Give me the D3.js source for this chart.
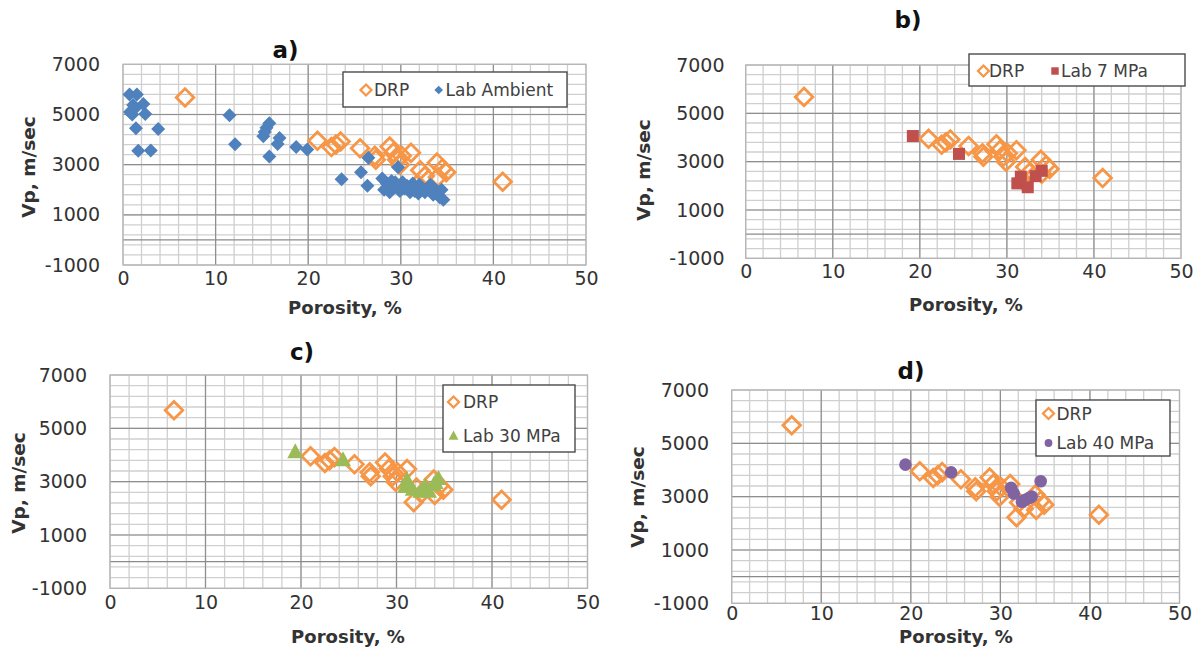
<!DOCTYPE html>
<html>
<head>
<meta charset="utf-8">
<script src="https://cdn.jsdelivr.net/npm/d3@7"></script>
<style>
  html, body { margin: 0; padding: 0; background: #ffffff; }
  svg { display: block; }
</style>
</head>
<body>
<svg id="chart" width="1198" height="648"></svg>
<script>
// ---------------- DATA ----------------
const xTicks = [0, 10, 20, 30, 40, 50];
const yTicks = [7000, 5000, 3000, 1000, -1000];
const panelLetters = ["a)", "b)", "c)", "d)"];
const labNames = ["Lab Ambient", "Lab 7 MPa", "Lab 30 MPa", "Lab 40 MPa"];
const drpName = "DRP";

// DRP (same set in all four panels): porosity %, Vp m/sec
const drpPorosity = [6.7, 21.0, 22.5, 23.5, 23.0, 25.6, 27.3, 27.2, 28.8, 29.2, 29.6, 29.9, 30.1, 31.1, 31.8, 32.1, 32.6, 33.9, 34.0, 34.5, 34.9, 41.0];
const drpVp       = [5680, 3950, 3700, 3920, 3800, 3650, 3200, 3350, 3720, 3480, 3200, 3000, 3350, 3470, 2230, 2780, 2550, 3080, 2500, 2850, 2700, 2320];

const ambientPorosity = [0.7, 1.5, 1.1, 2.2, 0.75, 2.4, 1.0, 1.3, 1.4, 3.8, 1.65, 3.0,
  11.5, 12.1, 15.8, 15.5, 15.15, 15.3, 16.9, 16.7, 15.8, 18.7, 19.9,
  23.6, 25.7, 26.4, 26.5, 29.7,
  28.0, 28.2, 28.5, 28.8, 29.0, 29.3, 29.6, 29.9, 30.2, 30.4, 30.7, 31.0, 31.3, 31.6, 31.9, 32.2, 32.6, 33.2, 33.5, 33.9, 34.2, 34.4, 34.6,
  28.6, 29.4, 30.0, 30.9, 31.5, 32.0, 32.4];
const ambientVp = [5800, 5800, 5380, 5420, 5100, 5020, 5000, 5250, 4450, 4420, 3550, 3560,
  4970, 3810, 4650, 4470, 4130, 4300, 4060, 3820, 3320, 3700, 3600,
  2420, 2700, 2160, 3280, 2900,
  2450, 2000, 2250, 1900, 2350, 2100, 2200, 1950, 2300, 2050, 2150, 1900, 2250, 2000, 1850, 2100, 1900, 2200, 1800, 1950, 1700, 2000, 1600,
  2100, 2300, 2150, 2050, 1950, 2200, 2000];

const mpa7Porosity = [19.2, 24.5, 31.2, 31.6, 32.4, 33.3, 34.0];
const mpa7Vp       = [4060, 3320, 2100, 2380, 1940, 2400, 2620];

const mpa30Porosity = [19.4, 24.4, 31.1, 30.9, 31.7, 32.5, 33.0, 33.4, 33.9, 34.4, 34.1];
const mpa30Vp       = [4100, 3800, 3050, 2800, 2700, 2620, 2830, 2620, 2870, 3100, 2950];

const mpa40Porosity = [19.4, 24.5, 31.2, 31.5, 32.4, 32.7, 33.5, 33.2, 34.5];
const mpa40Vp       = [4200, 3910, 3330, 3120, 2810, 2870, 3000, 2950, 3580];

// ---------------- LAYOUT / STYLE ----------------
const FONT = "'DejaVu Sans', Verdana, sans-serif";
const TEXT = "#333333";
const DRP_COLOR = "#F79646";
const labColors = ["#4F81BD", "#C0504D", "#9BBB59", "#8064A2"];
const labShapes = ["diamond", "square", "triangle", "circle"];
const labPor = [ambientPorosity, mpa7Porosity, mpa30Porosity, mpa40Porosity];
const labVp  = [ambientVp, mpa7Vp, mpa30Vp, mpa40Vp];

const layouts = [
  { x0: 123, x1: 586, yt: 64.3, yb: 265, title: [285.5, 50], ytitle: [29, 167], xtitle: [345, 308], xtickY: 279, ylabRight: 100,
    legend: { x: 343, y: 72, w: 224, h: 35, items: [[366, 90, 374], [438.7, 90, 445.5]] } },
  { x0: 745.7, x1: 1181, yt: 65, yb: 258.3, title: [908, 20], ytitle: [644, 170], xtitle: [966, 305], xtickY: 272, ylabRight: 724.5,
    legend: { x: 969, y: 54, w: 216, h: 32, items: [[983.5, 71, 989], [1055, 71, 1061]] } },
  { x0: 110, x1: 587.5, yt: 375, yb: 588.3, title: [302, 352], ytitle: [19, 483], xtitle: [348, 637], xtickY: 603, ylabRight: 87,
    legend: { x: 443, y: 385, w: 132, h: 67, items: [[453.5, 402, 463], [453.5, 436, 463]] } },
  { x0: 731.7, x1: 1179.5, yt: 390, yb: 603.3, title: [911, 371], ytitle: [638, 497], xtitle: [956, 637], xtickY: 614, ylabRight: 709,
    legend: { x: 1036, y: 400, w: 134, h: 56, items: [[1048.5, 413.5, 1056.5], [1048.5, 443, 1056.5]] } }
];

const svg = d3.select("#chart");
const fmt = d => String(d);   // plain hyphen-minus as in the reference

function diamondPath(r) { return `M0,${-r}L${r},0L0,${r}L${-r},0Z`; }
function trianglePath(w, h) { return `M0,${-h * 0.6}L${w / 2},${h * 0.4}L${-w / 2},${h * 0.4}Z`; }

function drawMarker(g, shape, color, cx, cy, small) {
  const k = small ? 0.62 : 1;
  if (shape === "hollowDiamond") {
    g.append("path").attr("d", diamondPath(8.8 * k)).attr("transform", `translate(${cx},${cy})`)
      .attr("fill", "none").attr("stroke", color).attr("stroke-width", small ? 2.3 : 2.8);
  } else if (shape === "diamond") {
    g.append("path").attr("d", diamondPath(7 * k)).attr("transform", `translate(${cx},${cy})`).attr("fill", color);
  } else if (shape === "square") {
    const s = 12 * k;
    g.append("rect").attr("x", cx - s / 2).attr("y", cy - s / 2).attr("width", s).attr("height", s).attr("fill", color);
  } else if (shape === "triangle") {
    g.append("path").attr("d", trianglePath(16 * k, 15 * k)).attr("transform", `translate(${cx},${cy})`).attr("fill", color);
  } else if (shape === "circle") {
    g.append("circle").attr("cx", cx).attr("cy", cy).attr("r", 6.3 * k).attr("fill", color);
  }
}

layouts.forEach((L, i) => {
  const g = svg.append("g");
  const x = d3.scaleLinear().domain([0, 50]).range([L.x0, L.x1]);
  const y = d3.scaleLinear().domain([-1000, 7000]).range([L.yb, L.yt]);

  // minor grid
  const minorX = d3.range(0, 50.001, 2);
  const minorY = d3.range(7000, -1000.001, -400);
  g.append("g").selectAll("line").data(minorX).join("line")
    .attr("x1", d => x(d)).attr("x2", d => x(d)).attr("y1", L.yt).attr("y2", L.yb)
    .attr("stroke", "#cfcfcf").attr("stroke-width", 1.3);
  g.append("g").selectAll("line").data(minorY).join("line")
    .attr("x1", L.x0).attr("x2", L.x1).attr("y1", d => y(d)).attr("y2", d => y(d))
    .attr("stroke", "#cfcfcf").attr("stroke-width", 1.3);
  // major grid (interior)
  g.append("g").selectAll("line").data(xTicks.slice(1, -1)).join("line")
    .attr("x1", d => x(d)).attr("x2", d => x(d)).attr("y1", L.yt).attr("y2", L.yb)
    .attr("stroke", "#8f8f8f").attr("stroke-width", 1.2);
  g.append("g").selectAll("line").data(yTicks.slice(1, -1)).join("line")
    .attr("x1", L.x0).attr("x2", L.x1).attr("y1", d => y(d)).attr("y2", d => y(d))
    .attr("stroke", "#8f8f8f").attr("stroke-width", 1.2);
  // zero (horizontal axis) line
  g.append("line").attr("x1", L.x0).attr("x2", L.x1).attr("y1", y(0)).attr("y2", y(0))
    .attr("stroke", "#8a8a8a").attr("stroke-width", 1.3);
  // frame
  g.append("rect").attr("x", L.x0).attr("y", L.yt).attr("width", L.x1 - L.x0).attr("height", L.yb - L.yt)
    .attr("fill", "none").attr("stroke", "#b5b5b5").attr("stroke-width", 1.3);

  // y tick labels
  const yAxis = d3.axisLeft(y).tickValues(yTicks).tickSize(0).tickPadding(0).tickFormat(fmt);
  const ya = g.append("g").attr("transform", `translate(${L.ylabRight},0)`).call(yAxis);
  ya.select(".domain").remove();
  ya.selectAll("text").attr("font-family", FONT).attr("font-size", 19).attr("fill", TEXT);
  // x tick labels
  const xAxis = d3.axisBottom(x).tickValues(xTicks).tickSize(0).tickPadding(0).tickFormat(fmt);
  const xa = g.append("g").attr("transform", `translate(0,${L.xtickY})`).call(xAxis);
  xa.select(".domain").remove();
  xa.selectAll("text").attr("font-family", FONT).attr("font-size", 19).attr("fill", TEXT).attr("dy", "0.32em");

  // titles
  g.append("text").attr("x", L.title[0]).attr("y", L.title[1]).attr("dy", "0.35em").attr("text-anchor", "middle")
    .attr("font-family", FONT).attr("font-size", 23).attr("font-weight", "bold").attr("fill", "#111").text(panelLetters[i]);
  g.append("text").attr("transform", `translate(${L.ytitle[0]},${L.ytitle[1]}) rotate(-90)`).attr("dy", "0.35em")
    .attr("text-anchor", "middle").attr("font-family", FONT).attr("font-size", 18.5).attr("font-weight", "bold")
    .attr("fill", TEXT).text("Vp, m/sec");
  g.append("text").attr("x", L.xtitle[0]).attr("y", L.xtitle[1]).attr("dy", "0.35em").attr("text-anchor", "middle")
    .attr("font-family", FONT).attr("font-size", 18).attr("font-weight", "bold").attr("fill", TEXT).text("Porosity, %");

  // data: DRP first, then lab series on top
  const drp = drpPorosity.map((p, j) => [p, drpVp[j]]);
  const lab = labPor[i].map((p, j) => [p, labVp[i][j]]);
  const pts = g.append("g");
  drp.forEach(d => drawMarker(pts, "hollowDiamond", DRP_COLOR, x(d[0]), y(d[1]), false));
  lab.forEach(d => drawMarker(pts, labShapes[i], labColors[i], x(d[0]), y(d[1]), false));

  // legend
  const lg = g.append("g");
  lg.append("rect").attr("x", L.legend.x).attr("y", L.legend.y).attr("width", L.legend.w).attr("height", L.legend.h)
    .attr("fill", "#ffffff").attr("stroke", "#4a4a4a").attr("stroke-width", 1.4);
  const names = [drpName, labNames[i]];
  const shapes = ["hollowDiamond", labShapes[i]];
  const cols = [DRP_COLOR, labColors[i]];
  L.legend.items.forEach((it, k) => {
    drawMarker(lg, shapes[k], cols[k], it[0], it[1], true);
    lg.append("text").attr("x", it[2]).attr("y", it[1]).attr("dy", "0.36em")
      .attr("font-family", FONT).attr("font-size", 17).attr("fill", "#404040").text(names[k]);
  });
});
</script>
</body>
</html>
